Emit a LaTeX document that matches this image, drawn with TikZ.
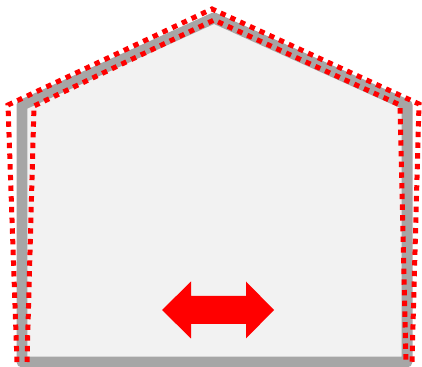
\documentclass[tikz,border=0pt]{standalone}
\usepackage{tikz}

\definecolor{wallgray}{HTML}{A6A6A6}
\definecolor{roomfill}{HTML}{F2F2F2}
\definecolor{seamred}{HTML}{FF0000}

\begin{document}
\begin{tikzpicture}[
    x=0.02cm, y=-0.02cm,
    wall/.style={draw=wallgray, fill=roomfill, line width=0.22cm, line join=round},
    seam/.style={draw=seamred, line width=0.1cm, dash pattern=on 0.108cm off 0.106cm, line cap=butt},
    slidearrow/.style={fill=seamred}
  ]
    \useasboundingbox (0,0) rectangle (422,367);

    % house outline
    \draw[wall] (22,362) -- (22,105) -- (214,18) -- (407,105) -- (407,362) -- cycle;

    % dotted seams, outside and inside
    \draw[seam] (17,362) -- (8,105) -- (212,9) -- (419,104) -- (412,362);
    \draw[seam] (27,362) -- (34,106) -- (214,20) -- (400,105) -- (406,362);

    % sliding arrow
    \fill[slidearrow] (162,310) -- (191,281.5) -- (191,296) -- (246,296) -- (246,281.5)
      -- (274,310) -- (246,338.5) -- (246,324) -- (191,324) -- (191,338.5) -- cycle;
\end{tikzpicture}
\end{document}
